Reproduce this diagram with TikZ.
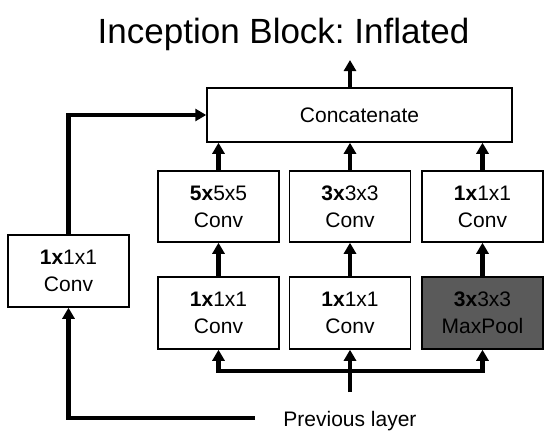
\documentclass[tikz,border=0pt]{standalone}
\usepackage{fontspec}
\setmainfont{Liberation Sans}
\usetikzlibrary{arrows.meta}
\definecolor{poolgray}{RGB}{90,90,90}
\frenchspacing
\begin{document}
\begin{tikzpicture}[x=1pt,y=-1pt,
  blk/.style={draw=black,line width=1.5pt,fill=white,inner sep=0pt,
    minimum width=121pt,minimum height=71pt,align=center,
    font=\fontsize{21}{27}\selectfont},
  arr/.style={line width=4.5pt,line join=miter,-{Triangle[length=11pt,width=12pt]}},
  wire/.style={line width=4.5pt,line join=miter}]
\useasboundingbox (0,0) rectangle (555,442);
\node[anchor=base,font=\fontsize{35}{42}\selectfont] (title) at (283.5,43.3) {Inception Block: Inflated};
\node[blk,minimum width=305pt,minimum height=54pt] (concat) at (359.5,115) {Concatenate};
\node[blk] (m1) at (218.5,206.5) {{\bfseries 5x}5x5\\Conv};
\node[blk] (m2) at (350,206.5) {{\bfseries 3x}3x3\\Conv};
\node[blk] (m3) at (482.5,206.5) {{\bfseries 1x}1x1\\Conv};
\node[blk,minimum height=72pt] (b1) at (218.5,313) {{\bfseries 1x}1x1\\Conv};
\node[blk,minimum height=72pt] (b2) at (350,313) {{\bfseries 1x}1x1\\Conv};
\node[blk,minimum height=72pt,fill=poolgray] (b3) at (482.5,313) {{\bfseries 3x}3x3\\MaxPool};
\node[blk,minimum height=72pt] (side) at (68.5,271) {{\bfseries 1x}1x1\\Conv};
\node[anchor=base,font=\fontsize{21}{27}\selectfont] (prev) at (350,426.7) {Previous layer};
\coordinate (out) at (350,60);
\coordinate (prevtop) at (350,392);
\coordinate (busL) at (218.5,371);
\coordinate (busR) at (482.5,371);
\coordinate (sidein) at (255,418);
% outputs
\draw[arr] (out |- concat.north) -- (out);
\draw[arr] (m1.north) -- (m1.north |- concat.south);
\draw[arr] (m2.north) -- (m2.north |- concat.south);
\draw[arr] (m3.north) -- (m3.north |- concat.south);
\draw[arr] (b1.north) -- (m1.south);
\draw[arr] (b2.north) -- (m2.south);
\draw[arr] (b3.north) -- (m3.south);
% input bus
\draw[wire,{Triangle[length=11pt,width=12pt]}-{Triangle[length=11pt,width=12pt]}] (b1.south) -- (busL) -- (busR) -- (b3.south);
\draw[arr] (prevtop) -- (b2.south);
% side branch
\draw[arr] (sidein) -- (sidein -| side.south) -- (side.south);
\draw[arr] (side.north) -- (side.north |- concat.west) -- (concat.west);
\end{tikzpicture}
\end{document}
